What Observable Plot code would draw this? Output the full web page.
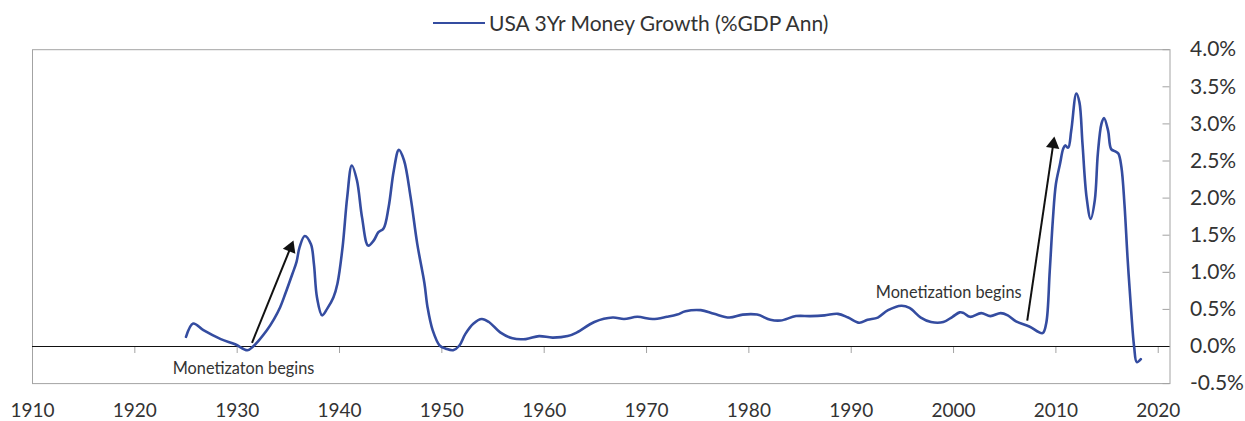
<!DOCTYPE html>
<html><head><meta charset="utf-8">
<script src="https://cdn.jsdelivr.net/npm/d3@7"></script>
<script src="https://cdn.jsdelivr.net/npm/@observablehq/plot@0.6"></script>
<style>
body{margin:0;background:#fff;font-family:Lato, "Open Sans", sans-serif;}
#legend{position:relative;height:40px;width:1245px;}
#legend .sw{position:absolute;left:433px;top:22px;width:52px;height:0;border-top:2.6px solid #344ca0;}
#legend .lbl{position:absolute;left:489px;top:9.6px;font-size:21px;line-height:26px;color:#333;font-weight:400;white-space:nowrap;}
</style></head><body>
<div id="legend"><div class="sw"></div><div class="lbl" id="lbl"></div></div>
<div id="chart"></div>
<script>
const seriesName = "USA 3Yr Money Growth (%GDP Ann)";
const years = [1925.0,1925.7,1926.7,1928.4,1929.8,1931.0,1931.55,1932.9,1933.6,1934.2,1934.7,1935.4,1935.8,1936.1,1936.6,1937.2,1937.5,1937.8,1938.3,1938.8,1939.4,1939.8,1940.3,1940.75,1941.2,1941.7,1942.2,1942.8,1943.35,1943.8,1944.3,1944.8,1945.3,1945.8,1946.3,1946.95,1947.6,1948.3,1948.6,1949.1,1949.8,1950.4,1951.1,1951.7,1952.3,1953.1,1953.9,1954.6,1955.7,1956.9,1958.2,1959.5,1960.8,1962.3,1963.2,1964.9,1966.7,1967.8,1969.1,1970.6,1972.0,1973.0,1973.8,1975.3,1976.6,1978.1,1979.4,1980.8,1982.1,1983.1,1984.6,1986.0,1987.4,1988.7,1989.7,1990.8,1991.6,1992.6,1993.6,1994.9,1995.7,1996.8,1997.8,1999.0,1999.9,2000.6,2001.0,2001.6,2002.7,2003.6,2004.6,2005.3,2006.1,2007.4,2008.7,2009.05,2009.4,2009.7,2010.0,2010.4,2010.7,2010.9,2011.2,2011.5,2012.0,2012.3,2012.6,2013.0,2013.4,2013.8,2014.1,2014.45,2014.7,2015.1,2015.4,2015.8,2016.1,2016.4,2016.7,2017.0,2017.35,2017.65,2017.9,2018.3];
const values = [0.13,0.31,0.22,0.10,0.03,-0.05,0.00,0.22,0.37,0.53,0.71,0.98,1.14,1.34,1.49,1.38,1.11,0.66,0.42,0.51,0.66,0.85,1.34,2.01,2.44,2.24,1.74,1.36,1.43,1.54,1.59,1.88,2.37,2.65,2.51,2.01,1.38,0.85,0.53,0.22,0.01,-0.03,-0.05,0.01,0.17,0.31,0.37,0.33,0.19,0.11,0.10,0.14,0.12,0.14,0.19,0.33,0.39,0.37,0.40,0.37,0.40,0.43,0.475,0.49,0.44,0.39,0.43,0.43,0.36,0.35,0.41,0.41,0.42,0.44,0.39,0.32,0.36,0.39,0.49,0.55,0.52,0.39,0.33,0.33,0.40,0.46,0.45,0.40,0.45,0.41,0.45,0.42,0.34,0.27,0.18,0.31,1.02,1.70,2.19,2.46,2.66,2.71,2.68,2.91,3.41,3.29,2.73,2.01,1.72,1.97,2.60,3.00,3.08,2.91,2.66,2.63,2.60,2.42,1.92,1.20,0.49,-0.01,-0.21,-0.17];
const xTicks = [1910,1920,1930,1940,1950,1960,1970,1980,1990,2000,2010,2020];
const yTicks = [-0.5,0,0.5,1.0,1.5,2.0,2.5,3.0,3.5,4.0];
const noteTexts = ["Monetizaton begins","Monetization begins"];
const noteYears = [1923.7,1992.4];
const noteValues = [-0.30,0.73];
const arrowFromYears = [1931.45,2007.2];
const arrowFromValues = [0.05,0.35];
const arrowToYears = [1935.5,2009.85];
const arrowToValues = [1.43,2.83];

document.getElementById("lbl").textContent = seriesName;

const W = 1245, H = 381;
const mL = 32, mR = 75.5, mT = 9.2, mB = 37.9;
const xDom = [1910, 2021.15], yDom = [-0.5, 4.0];
const pxYear = (W - mL - mR) / (xDom[1] - xDom[0]);
const pxUnit = (H - mT - mB) / (yDom[1] - yDom[0]);

const data = years.map((y, i) => ({year: y, value: values[i]}));
const notes = noteTexts.map((t, i) => ({text: t, year: noteYears[i], value: noteValues[i]}));
const headR = 5;
const tipBack = 2 * Math.sqrt(Math.PI * headR * headR / (3 * Math.sqrt(3)));
const arrows = arrowFromYears.map((x1, i) => {
  const x2 = arrowToYears[i], y1 = arrowFromValues[i], y2 = arrowToValues[i];
  const dxp = (x2 - x1) * pxYear, dyp = (y2 - y1) * pxUnit;
  const a = Math.atan2(dxp, dyp);
  return {x1, y1, x2, y2, angle: a * 180 / Math.PI,
    hx: x2 - Math.sin(a) * tipBack / pxYear, hy: y2 - Math.cos(a) * tipBack / pxUnit,
    lx: x2 - Math.sin(a) * tipBack * 0.6 / pxYear, ly: y2 - Math.cos(a) * tipBack * 0.6 / pxUnit};
});

const chart = Plot.plot({
  width: W, height: H,
  marginLeft: mL, marginRight: mR, marginTop: mT, marginBottom: mB,
  style: {fontFamily: "Lato, 'Open Sans', sans-serif", fontWeight: 400, color: "#333", background: "#fff", overflow: "visible"},
  x: {domain: xDom},
  y: {domain: yDom},
  marks: [
    Plot.frame({stroke: "#a3a3a3"}),
    Plot.ruleY(yTicks, {x1: xDom[1] - 7 / pxYear, x2: xDom[1], stroke: "#a3a3a3"}),
    Plot.ruleX(xTicks.slice(1), {y1: 0, y2: -7 / pxUnit, stroke: "#a3a3a3"}),
    Plot.ruleY([0], {stroke: "#111", strokeWidth: 1.2}),
    Plot.axisX(xTicks, {tickSize: 0, tickPadding: 20, tickFormat: "d", fontSize: 19, label: null}),
    Plot.axisY(yTicks, {anchor: "right", tickSize: 0, tickPadding: 20, tickFormat: d => d.toFixed(1) + "%", fontSize: 21, label: null}),
    Plot.line(data, {x: "year", y: "value", stroke: "#344ca0", strokeWidth: 2.6, curve: "catmull-rom"}),
    Plot.link(arrows, {x1: "x1", y1: "y1", x2: "lx", y2: "ly", stroke: "#111", strokeWidth: 2}),
    Plot.dot(arrows, {x: "hx", y: "hy", symbol: "triangle", r: headR, rotate: "angle", fill: "#111", stroke: "none"}),
    Plot.text(notes, {x: "year", y: "value", text: "text", textAnchor: "start", fontSize: 16.3, fill: "#333"})
  ]
});
document.getElementById("chart").appendChild(chart);
</script>
</body></html>
